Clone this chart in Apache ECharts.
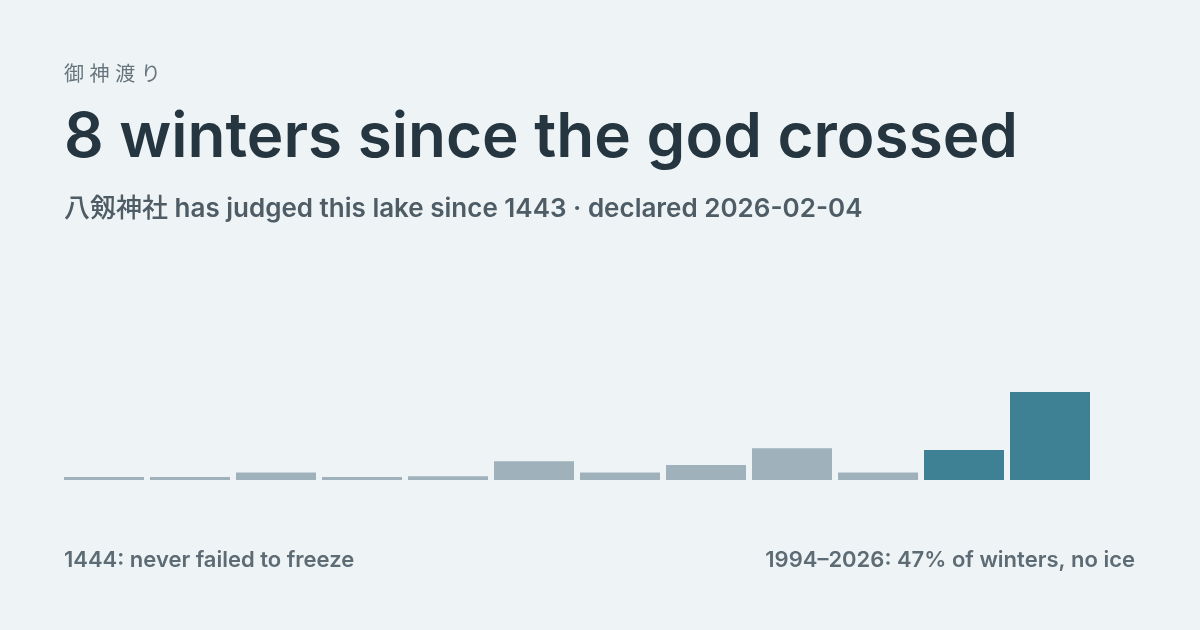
<!DOCTYPE html>
<html>
<head>
<meta charset="utf-8">
<script src="https://cdn.jsdelivr.net/npm/echarts@6/dist/echarts.min.js"></script>
<style>
  html, body { margin: 0; padding: 0; background: #eef3f6; }
  #chart { width: 1200px; height: 630px; }
</style>
</head>
<body>
<div id="chart"></div>
<script>
// 12 periods from 1444 to 2026, share of winters with no ice (%)
var periods = ['1444', '1493', '1541', '1590', '1638', '1687', '1735', '1784', '1832', '1881', '1945', '1994']
var noIcePct = [0, 0, 4, 0, 2, 10, 4, 8, 17, 4, 16, 47]
var recent = [false, false, false, false, false, false, false, false, false, false, true, true]

var font = 'Inter, "Noto Sans CJK JP", sans-serif'

var chart = echarts.init(document.getElementById('chart'))

var option = {
    backgroundColor: '#eef3f6',
    animation: false,
    title: [
        {
            text: '御 神 渡 り',
            left: 59, top: 60,
            textStyle: { fontFamily: font, fontSize: 20, fontWeight: 'normal', color: '#66747d' }
        },
        {
            text: '8 winters since the god crossed',
            left: 59, top: 102,
            textStyle: { fontFamily: font, fontSize: 62, fontWeight: 600, color: '#263640' }
        },
        {
            text: '{cjk|八剱神社}{lat| has judged this lake since 1443 · declared 2026-02-04}',
            left: 59, top: 191,
            textStyle: {
                rich: {
                    cjk: { fontFamily: font, fontSize: 26, fontWeight: 500, color: '#4e5c65' },
                    lat: { fontFamily: font, fontSize: 26, fontWeight: 600, color: '#4e5c65' }
                }
            }
        },
        {
            text: '1444: never failed to freeze',
            left: 59, top: 544,
            textStyle: { fontFamily: font, fontSize: 22, fontWeight: 600, color: '#5d6b74' }
        },
        {
            text: '1994–2026: 47% of winters, no ice',
            right: 60, top: 544,
            textStyle: { fontFamily: font, fontSize: 22, fontWeight: 600, color: '#5d6b74' }
        }
    ],
    grid: { left: 61, width: 1032, top: 392, bottom: 150 },
    xAxis: {
        type: 'category',
        data: periods,
        axisLine: { show: false },
        axisTick: { show: false },
        axisLabel: { show: false }
    },
    yAxis: {
        type: 'value',
        min: 0,
        max: 47,
        show: false
    },
    series: [{
        type: 'bar',
        barWidth: 80,
        barMinHeight: 3,
        data: noIcePct.map(function (v, i) {
            return { value: v, itemStyle: { color: recent[i] ? '#3e8194' : '#9fb2bb' } }
        })
    }]
}

chart.setOption(option)
</script>
</body>
</html>
